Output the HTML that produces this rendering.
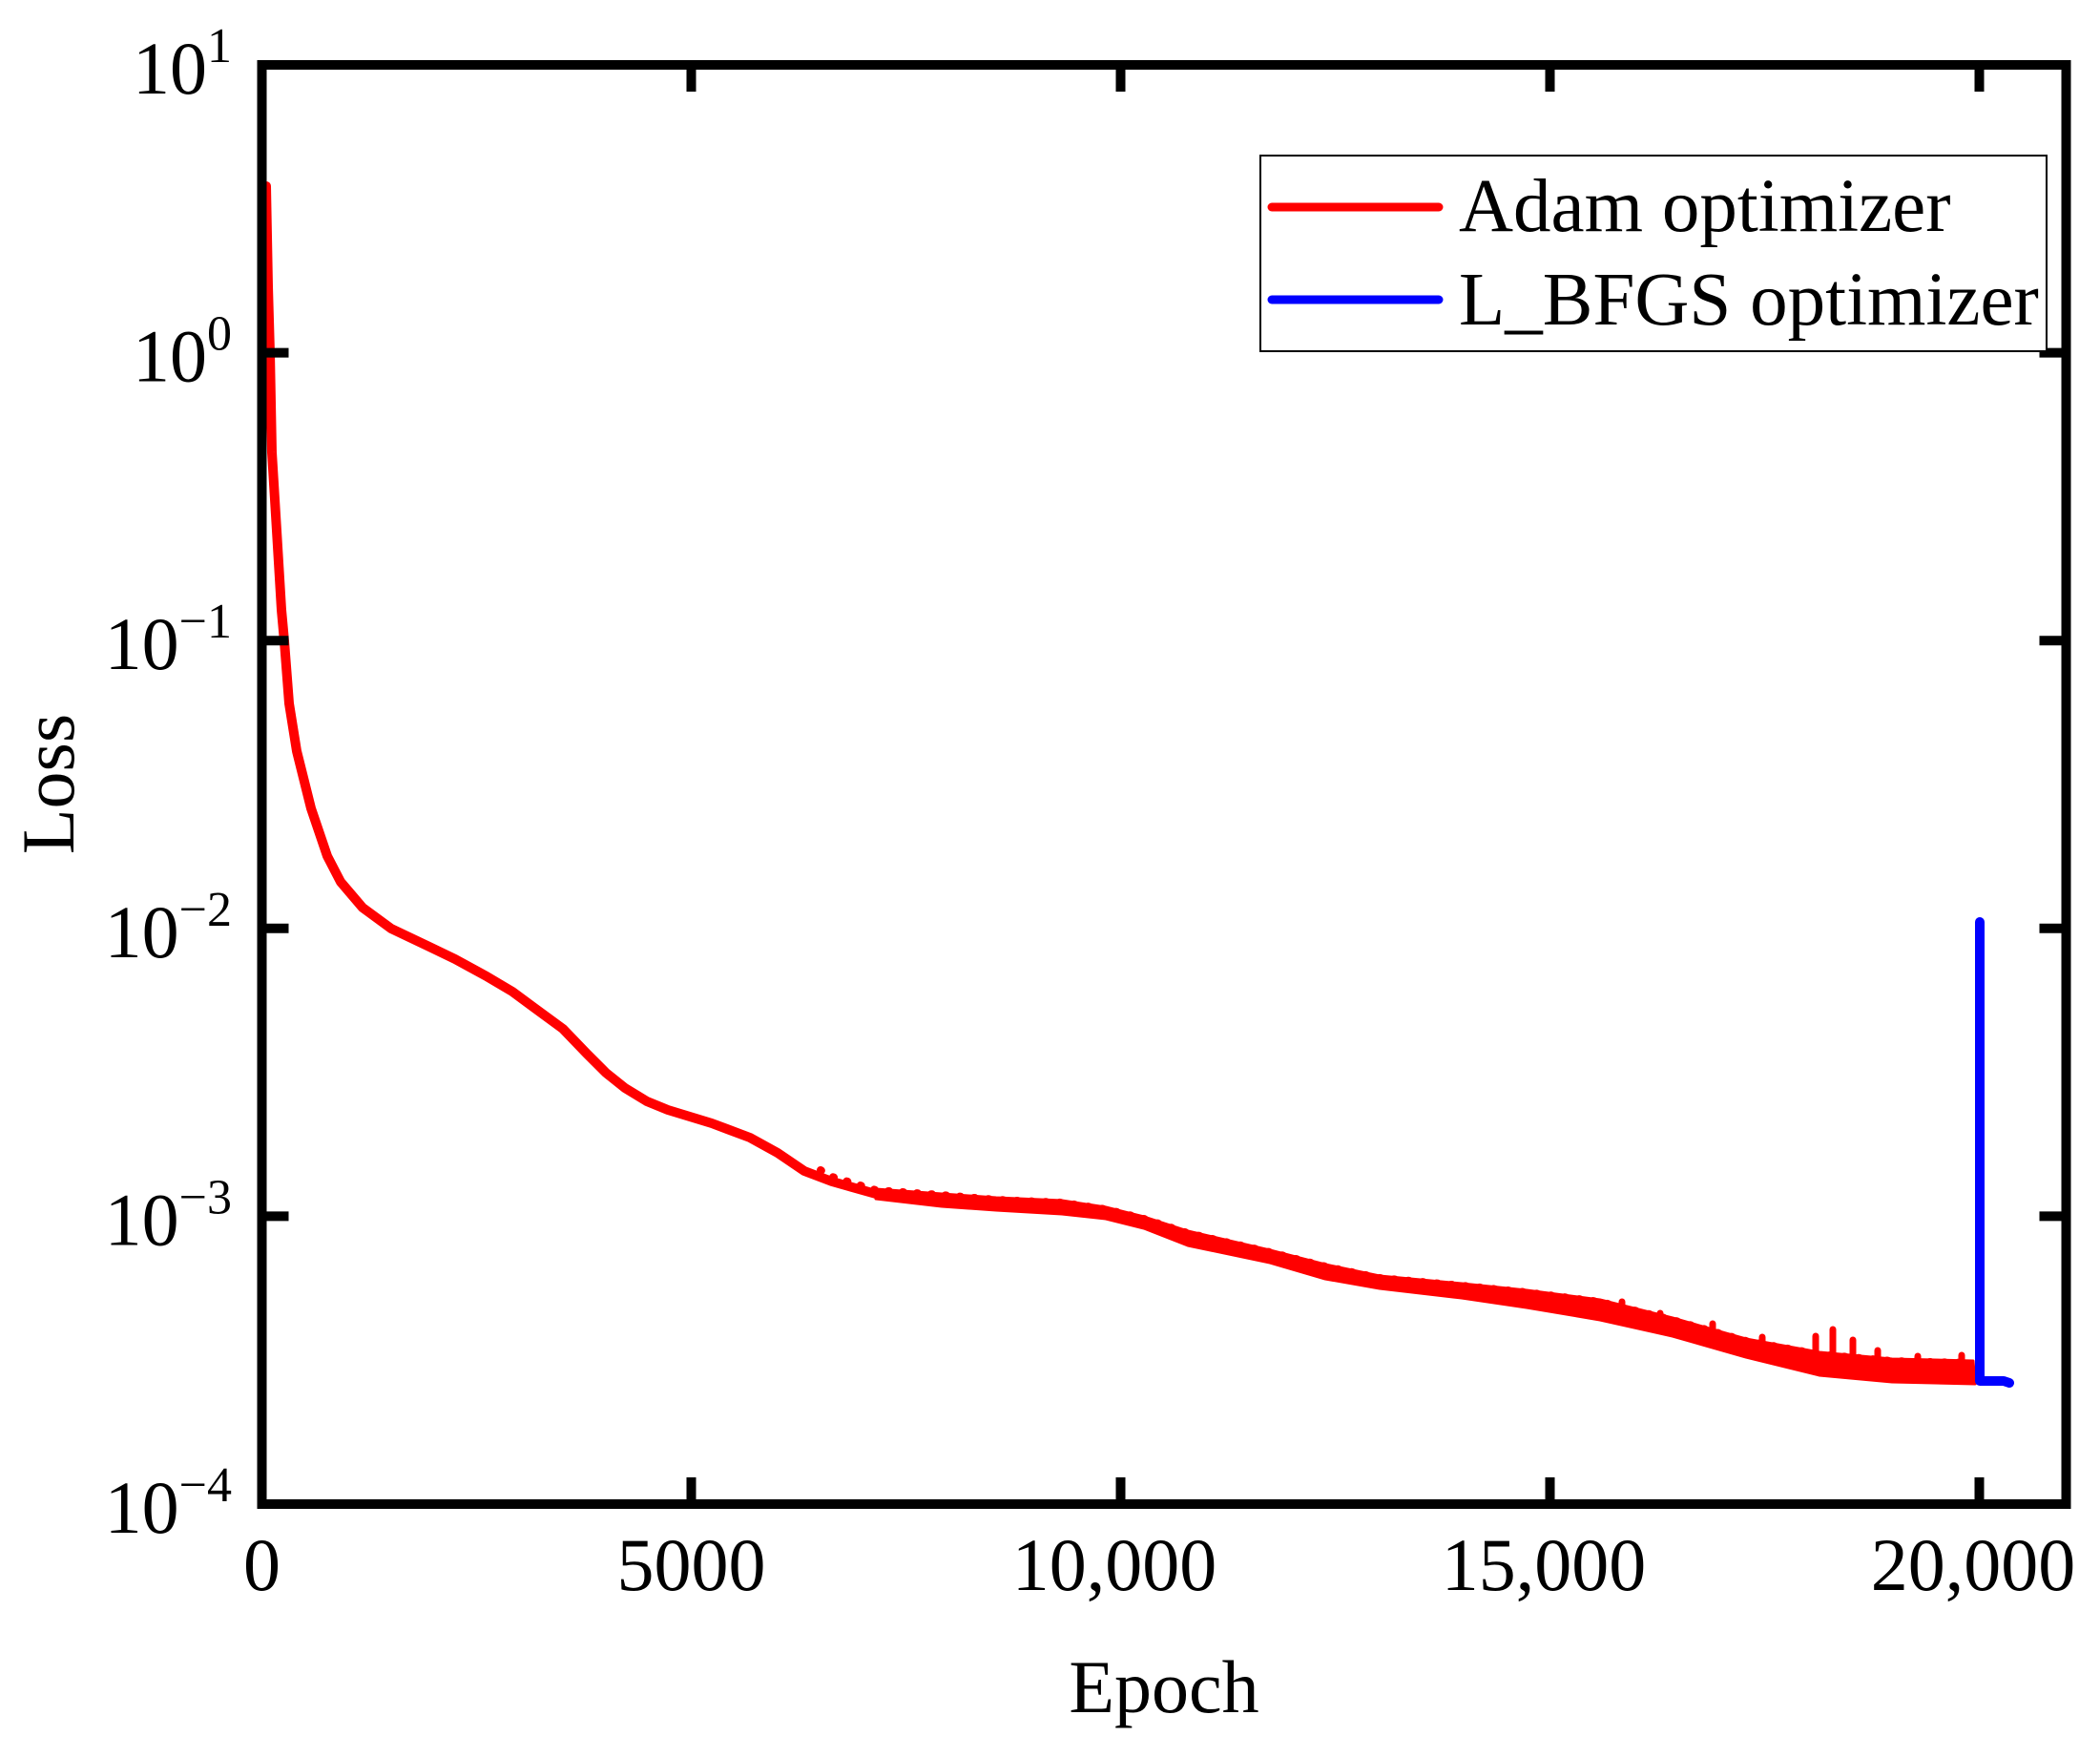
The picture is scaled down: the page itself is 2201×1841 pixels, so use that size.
<!DOCTYPE html>
<html><head><meta charset="utf-8"><style>
html,body{margin:0;padding:0;background:#fff;}
svg{display:block;}
text{font-family:"Liberation Serif","Times New Roman",serif;fill:#000;}
</style></head><body>
<svg width="2201" height="1841" viewBox="0 0 2201 1841" xmlns="http://www.w3.org/2000/svg">
<rect x="0" y="0" width="2201" height="1841" fill="#fff"/>

<!-- red Adam curve -->
<path d="M279,195 L281,300 L283,370 L285,474 L290,556 L295,639 L298,672 L303,737 L311,787 L326,847 L343,897 L357,924 L380,951 L410,973 L450,992 L477,1005 L510,1023 L537,1039 L560,1056 L590,1078 L615,1104 L635,1124 L655,1140 L678,1154 L700,1163 L746,1177 L786,1192 L815,1208 L843,1227 L872,1238 L918,1251 L987,1257 L1044,1261 L1113,1265 L1159,1271 L1199,1281 L1245,1297 L1331,1316 L1389,1332 L1446,1343 L1532,1352 L1600,1361 L1677,1372 L1753,1390 L1830,1412 L1907,1429 L1983,1436 L2066,1438" fill="none" stroke="#ff0000" stroke-width="10" stroke-linejoin="round" stroke-linecap="round"/>
<polygon points="918,1246 987,1251 1044,1255 1113,1258 1159,1265 1199,1275 1245,1290 1331,1310 1389,1325 1446,1337 1532,1345 1600,1352 1677,1362 1753,1381 1830,1403 1907,1417 1983,1424 2068,1426 2070,1450 1983,1448 1907,1441 1830,1422 1753,1400 1677,1383 1600,1370 1532,1360 1446,1350 1389,1340 1331,1323 1245,1305 1199,1287 1159,1277 1113,1272 1044,1268 987,1264 918,1256" fill="#ff0000" stroke="#ff0000" stroke-width="3" stroke-linejoin="round"/>
<!-- noise bumps along upper edge -->
<path d="M860,1226 L872,1233 L918,1247 L987,1252 L1044,1257 L1113,1260 L1159,1267 L1199,1277 L1245,1292 L1331,1312 L1389,1327 L1446,1339 L1532,1347 L1600,1354 L1677,1364 L1753,1383 L1830,1405 L1907,1419 L1983,1426 L2066,1428" fill="none" stroke="#ff0000" stroke-width="8" stroke-linecap="round" stroke-dasharray="1 14"/>
<!-- noise spikes -->
<g stroke="#ff0000" stroke-width="7" stroke-linecap="round">
<line x1="1700" y1="1372" x2="1700" y2="1364"/>
<line x1="1740" y1="1384" x2="1740" y2="1376"/>
<line x1="1795" y1="1397" x2="1795" y2="1387"/>
<line x1="1847" y1="1412" x2="1847" y2="1401"/>
<line x1="1903" y1="1420" x2="1903" y2="1400"/>
<line x1="1921" y1="1420" x2="1921" y2="1393"/>
<line x1="1942" y1="1422" x2="1942" y2="1404"/>
<line x1="1968" y1="1426" x2="1968" y2="1415"/>
<line x1="2010" y1="1428" x2="2010" y2="1421"/>
<line x1="2056" y1="1428" x2="2056" y2="1420"/>
</g>

<!-- blue L-BFGS curve -->
<path d="M2075,966 L2075,1447 L2100,1447 L2106,1449" fill="none" stroke="#0000ff" stroke-width="10" stroke-linejoin="round" stroke-linecap="round"/>

<!-- frame -->
<rect x="274.5" y="68" width="1891" height="1508" fill="none" stroke="#000" stroke-width="10"/>

<!-- ticks -->
<g stroke="#000" stroke-width="10">
<line x1="279" y1="369.6" x2="302.5" y2="369.6"/>
<line x1="279" y1="671.2" x2="302.5" y2="671.2"/>
<line x1="279" y1="972.8" x2="302.5" y2="972.8"/>
<line x1="279" y1="1274.4" x2="302.5" y2="1274.4"/>
<line x1="2161" y1="369.6" x2="2137.5" y2="369.6"/>
<line x1="2161" y1="671.2" x2="2137.5" y2="671.2"/>
<line x1="2161" y1="972.8" x2="2137.5" y2="972.8"/>
<line x1="2161" y1="1274.4" x2="2137.5" y2="1274.4"/>
<line x1="724.5" y1="1571" x2="724.5" y2="1548"/>
<line x1="1174.5" y1="1571" x2="1174.5" y2="1548"/>
<line x1="1624.5" y1="1571" x2="1624.5" y2="1548"/>
<line x1="2074.5" y1="1571" x2="2074.5" y2="1548"/>
<line x1="724.5" y1="73" x2="724.5" y2="96"/>
<line x1="1174.5" y1="73" x2="1174.5" y2="96"/>
<line x1="1624.5" y1="73" x2="1624.5" y2="96"/>
<line x1="2074.5" y1="73" x2="2074.5" y2="96"/>
</g>

<!-- y tick labels -->
<g font-size="78" text-anchor="end">
<text x="243" y="98">10<tspan dy="-33" font-size="52">1</tspan></text>
<text x="243" y="399.6">10<tspan dy="-33" font-size="52">0</tspan></text>
<text x="243" y="701.2">10<tspan dy="-33" font-size="52">−1</tspan></text>
<text x="243" y="1002.8">10<tspan dy="-33" font-size="52">−2</tspan></text>
<text x="243" y="1304.4">10<tspan dy="-33" font-size="52">−3</tspan></text>
<text x="243" y="1606">10<tspan dy="-33" font-size="52">−4</tspan></text>
</g>

<!-- x tick labels -->
<g font-size="78" text-anchor="middle">
<text x="274.5" y="1666">0</text>
<text x="724.5" y="1666">5000</text>
<text x="1168" y="1666">10,000</text>
<text x="1618" y="1666">15,000</text>
<text x="2068" y="1666">20,000</text>
</g>

<!-- axis titles -->
<text x="1220" y="1794" font-size="78" text-anchor="middle">Epoch</text>
<text transform="translate(77,821.5) rotate(-90)" x="0" y="0" font-size="78" text-anchor="middle">Loss</text>

<!-- legend -->
<rect x="1321" y="163" width="824" height="205" fill="#fff" stroke="#000" stroke-width="2"/>
<line x1="1333" y1="217" x2="1508" y2="217" stroke="#ff0000" stroke-width="9" stroke-linecap="round"/>
<line x1="1333" y1="314" x2="1508" y2="314" stroke="#0000ff" stroke-width="9" stroke-linecap="round"/>
<text x="1529" y="242" font-size="79">Adam optimizer</text>
<text x="1529" y="340" font-size="79">L_BFGS optimizer</text>
</svg>
</body></html>
